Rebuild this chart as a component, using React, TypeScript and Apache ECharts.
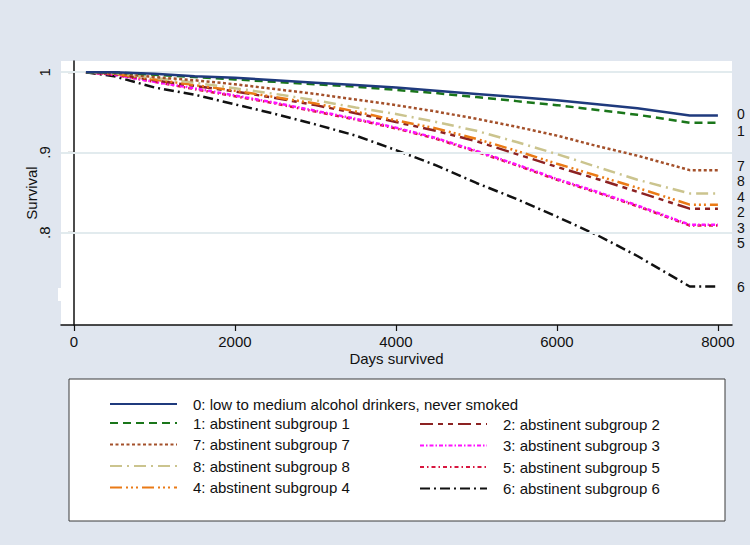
import React, { useEffect, useRef } from "react";
import * as echarts from "echarts";

const days = [150, 500, 1000, 1500, 2000, 2500, 3000, 3500, 4000, 4500, 5000, 5500, 6000, 6500, 7000, 7650, 8000];

const s0 = [1, 1, 0.998, 0.995, 0.993, 0.99, 0.987, 0.984, 0.981, 0.977, 0.973, 0.969, 0.965, 0.96, 0.955, 0.946, 0.946];
const s1 = [1, 1, 0.997, 0.994, 0.991, 0.988, 0.985, 0.982, 0.978, 0.974, 0.969, 0.964, 0.959, 0.953, 0.947, 0.937, 0.937];
const s7 = [1, 0.999, 0.994, 0.99, 0.985, 0.979, 0.973, 0.966, 0.959, 0.951, 0.942, 0.932, 0.921, 0.908, 0.896, 0.878, 0.878];
const s8 = [1, 0.999, 0.993, 0.987, 0.98, 0.973, 0.965, 0.956, 0.948, 0.938, 0.927, 0.913, 0.898, 0.882, 0.866, 0.849, 0.849];
const s4 = [1, 0.998, 0.991, 0.984, 0.977, 0.969, 0.961, 0.951, 0.94, 0.93, 0.917, 0.902, 0.886, 0.871, 0.856, 0.835, 0.835];
const s2 = [1, 0.998, 0.99, 0.983, 0.976, 0.968, 0.959, 0.949, 0.938, 0.927, 0.914, 0.898, 0.882, 0.867, 0.851, 0.83, 0.83];
const s3 = [1, 0.997, 0.988, 0.98, 0.971, 0.962, 0.952, 0.942, 0.931, 0.918, 0.902, 0.885, 0.867, 0.851, 0.834, 0.81, 0.81];
const s5 = [1, 0.997, 0.988, 0.979, 0.97, 0.961, 0.951, 0.941, 0.93, 0.917, 0.901, 0.884, 0.866, 0.85, 0.833, 0.809, 0.809];
const s6 = [1, 0.995, 0.981, 0.972, 0.96, 0.948, 0.935, 0.921, 0.903, 0.884, 0.862, 0.842, 0.82, 0.797, 0.771, 0.733, 0.733];

const names = [
  "0: low to medium alcohol drinkers, never smoked",
  "1: abstinent subgroup 1",
  "7: abstinent subgroup 7",
  "8: abstinent subgroup 8",
  "4: abstinent subgroup 4",
  "2: abstinent subgroup 2",
  "3: abstinent subgroup 3",
  "5: abstinent subgroup 5",
  "6: abstinent subgroup 6",
];
const seriesValues = [s0, s1, s7, s8, s4, s2, s3, s5, s6];
const colors = ["#1f3a7d", "#1a761a", "#a4502a", "#cbc48e", "#ea7a16", "#8c2222", "#ff10ff", "#d8163f", "#111111"];
const dashes: any[] = [
  "solid",
  [8, 5],
  [3, 2.5],
  [12, 5, 2, 5],
  [12, 4, 2, 3, 2, 3, 2, 4],
  [13, 5, 5, 5, 5, 5],
  [4, 2, 1.5, 2],
  [4, 3, 1.5, 3],
  [10, 4, 2, 4],
];

const xTicks = [0, 2000, 4000, 6000, 8000];
const yTicks = [0.8, 0.9, 1];
const yTickText = [".8", ".9", "1"];
const endLabels = ["0", "1", "7", "8", "4", "2", "3", "5", "6"];
const endLabelY = [114, 131, 166, 181, 197, 212, 228, 243, 287];

export default function App() {
  const ref = useRef<HTMLDivElement>(null);
  useEffect(() => {
    if (!ref.current) return;
    const chart = echarts.init(ref.current, null, { renderer: "svg" });
    const font = "Liberation Sans, Arial, sans-serif";
    const series: any[] = [
      {
        type: "line",
        name: "grid",
        data: [],
        z: 1,
        silent: true,
        markLine: {
          silent: true,
          symbol: "none",
          label: { show: false },
          lineStyle: { color: "#e2ebee", width: 2, type: "solid" },
          data: yTicks.map((v) => ({ yAxis: v })),
        },
      },
    ];
    seriesValues.forEach((vals, i) => {
      series.push({
        type: "line",
        name: names[i],
        data: days.map((d, j) => [d, vals[j]]),
        showSymbol: false,
        symbol: "none",
        z: 2 + (8 - i),
        color: colors[i],
        lineStyle: { color: colors[i], width: 2.5, type: dashes[i] },
      });
    });
    const legendCommon = {
      orient: "vertical",
      padding: 0,
      itemWidth: 67,
      itemHeight: 16,
      itemGap: 5.5,
      selectedMode: false,
      itemStyle: { opacity: 0 },
      textStyle: { fontFamily: font, fontSize: 15, color: "#111", padding: [0, 0, 0, 11], lineHeight: 16 },
    };
    chart.setOption({
      animation: false,
      backgroundColor: "#e0e6ef",
      grid: { left: 61, right: 18, top: 61, bottom: 220, show: true, backgroundColor: "#ffffff", borderWidth: 0 },
      xAxis: {
        type: "value",
        min: -160,
        max: 8175,
        name: "Days survived",
        nameLocation: "middle",
        nameGap: 26,
        nameMoveOverlap: false,
        nameTextStyle: { fontFamily: font, fontSize: 15, color: "#111" },
        axisLine: { show: true, lineStyle: { color: "#111", width: 1.5 } },
        axisTick: { show: true, length: 6, customValues: xTicks, lineStyle: { color: "#111", width: 1.2 } },
        axisLabel: {
          customValues: xTicks,
          margin: 9,
          fontFamily: font,
          fontSize: 15,
          color: "#111",
          formatter: (v: number) => String(Math.round(v)),
        },
        splitLine: { show: false },
      },
      yAxis: {
        type: "value",
        min: 0.685,
        max: 1.014,
        name: "Survival",
        nameLocation: "middle",
        nameGap: 22,
        nameRotate: 90,
        nameMoveOverlap: false,
        nameTextStyle: { fontFamily: font, fontSize: 15, color: "#111" },
        axisLine: { show: true, lineStyle: { color: "#111", width: 1.5 } },
        axisTick: { show: true, length: 6, customValues: yTicks, lineStyle: { color: "#111", width: 1.2 } },
        axisLabel: {
          customValues: yTicks,
          rotate: 90,
          margin: 9,
          fontFamily: font,
          fontSize: 15,
          color: "#111",
          formatter: (v: number) => {
            const k = yTicks.findIndex((t) => Math.abs(t - v) < 1e-6);
            return k >= 0 ? yTickText[k] : "";
          },
        },
        splitLine: { show: false },
      },
      legend: [
        { ...legendCommon, left: 109, top: 396, data: [names[0]] },
        { ...legendCommon, left: 109, top: 415, data: [names[1], names[2], names[3], names[4]] },
        { ...legendCommon, left: 419, top: 416, data: [names[5], names[6], names[7], names[8]] },
      ],
      graphic: [
        {
          type: "rect",
          z: 0,
          shape: { x: 69, y: 379, width: 656, height: 142 },
          style: { fill: "#ffffff", stroke: "#3a3a3a", lineWidth: 1 },
        },
        {
          type: "rect",
          z: 100,
          shape: { x: 58, y: 288, width: 5, height: 13 },
          style: { fill: "#ffffff" },
        },
        ...endLabels.map((t, i) => ({
          type: "text",
          z: 100,
          x: 737,
          y: endLabelY[i],
          style: {
            text: t,
            fontFamily: font,
            fontSize: 14,
            lineHeight: 14,
            fill: "#111",
            textAlign: "left",
            textVerticalAlign: "middle",
          },
        })),
      ],
      series,
    });
    return () => chart.dispose();
  }, []);
  return <div ref={ref} style={{ position: "fixed", left: 0, top: 0, width: 750, height: 545 }} />;
}
